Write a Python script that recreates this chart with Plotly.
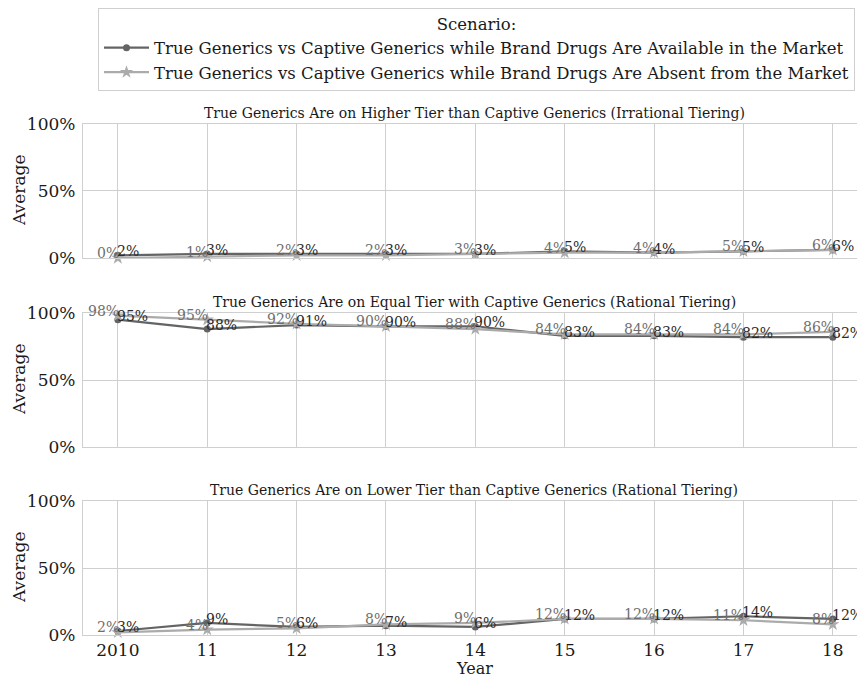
import plotly.graph_objects as go

YEARS = [2010, 2011, 2012, 2013, 2014, 2015, 2016, 2017, 2018]
YEAR_LABELS = ["2010", "11", "12", "13", "14", "15", "16", "17", "18"]

PANEL_TITLES = [
    "True Generics Are on Higher Tier than Captive Generics (Irrational Tiering)",
    "True Generics Are on Equal Tier with Captive Generics (Rational Tiering)",
    "True Generics Are on Lower Tier than Captive Generics (Rational Tiering)",
]

SERIES_NAMES = [
    "True Generics vs Captive Generics while Brand Drugs Are Available in the Market",
    "True Generics vs Captive Generics while Brand Drugs Are Absent from the Market",
]

# percent values, per panel
AVAILABLE = [
    [2, 3, 3, 3, 3, 5, 4, 5, 6],
    [95, 88, 91, 90, 90, 83, 83, 82, 82],
    [3, 9, 6, 7, 6, 12, 12, 14, 12],
]
ABSENT = [
    [0, 1, 2, 2, 3, 4, 4, 5, 6],
    [98, 95, 92, 90, 88, 84, 84, 84, 86],
    [2, 4, 5, 8, 9, 12, 12, 11, 8],
]

FONT = "DejaVu Serif"
GRID = "#cfcfcf"
DARK = "#646464"
LIGHT = "#ababab"
TXT = "#1a1a1a"

# page has an 8px body margin, so the figure is 8px smaller than the window
W, H = 857, 670
DOMAINS = [[0.7378, 1.0], [0.3679, 0.6301], [0.0, 0.2622]]

fig = go.Figure()
annotations = []

for i in range(3):
    xa = "x" if i == 0 else f"x{i + 1}"
    ya = "y" if i == 0 else f"y{i + 1}"
    a_vals = [v / 100 for v in AVAILABLE[i]]
    b_vals = [v / 100 for v in ABSENT[i]]

    fig.add_trace(go.Scatter(
        x=YEARS, y=a_vals, xaxis=xa, yaxis=ya,
        mode="lines+markers", name=SERIES_NAMES[0],
        legendgroup="a", showlegend=(i == 0), cliponaxis=False,
        line=dict(color=DARK, width=2.2),
        marker=dict(symbol="circle", size=7, color=DARK),
    ))
    fig.add_trace(go.Scatter(
        x=YEARS, y=b_vals, xaxis=xa, yaxis=ya,
        mode="lines+markers", name=SERIES_NAMES[1],
        legendgroup="b", showlegend=(i == 0), cliponaxis=False,
        line=dict(color=LIGHT, width=2.2),
        marker=dict(symbol="star", size=10, color=LIGHT),
    ))

    # value labels: absent series to the left, available series to the right
    for x, v, p in zip(YEARS, b_vals, ABSENT[i]):
        annotations.append(dict(
            x=x, y=v, xref=xa, yref=ya, text=f"{p}%", showarrow=False,
            xanchor="right", yanchor="middle", xshift=3, yshift=5,
            font=dict(family=FONT, size=14, color="#6e6e6e"),
        ))
    for x, v, p in zip(YEARS, a_vals, AVAILABLE[i]):
        annotations.append(dict(
            x=x, y=v, xref=xa, yref=ya, text=f"{p}%", showarrow=False,
            xanchor="left", yanchor="middle", xshift=-3, yshift=4,
            font=dict(family=FONT, size=14, color="#2a2a2a"),
        ))

    # panel title
    annotations.append(dict(
        x=0.5, y=DOMAINS[i][1], xref="paper", yref="paper",
        text=PANEL_TITLES[i], showarrow=False,
        xanchor="center", yanchor="bottom", yshift=1,
        font=dict(family=FONT, size=14, color=TXT),
    ))
    # y axis title
    annotations.append(dict(
        x=0, y=sum(DOMAINS[i]) / 2, xref="paper", yref="paper",
        text="Average", showarrow=False, textangle=-90,
        xanchor="center", yanchor="middle", xshift=-64,
        font=dict(family=FONT, size=17, color=TXT),
    ))

    axis_common = dict(
        showgrid=True, gridcolor=GRID, gridwidth=1.3,
        showline=True, linecolor=GRID, linewidth=1.3, mirror=True,
        zeroline=False, ticks="", automargin=False,
        tickfont=dict(family=FONT, size=17, color=TXT),
    )
    fig.layout[f"xaxis{'' if i == 0 else i + 1}"] = dict(
        axis_common,
        domain=[0, 1], anchor=ya,
        range=[2009.61, 2018.36],
        tickvals=YEARS, ticktext=YEAR_LABELS,
        showticklabels=(i == 2),
        ticklabelstandoff=-1,
    )
    fig.layout[f"yaxis{'' if i == 0 else i + 1}"] = dict(
        axis_common,
        domain=DOMAINS[i], anchor=xa,
        range=[0, 1], tickvals=[0, 0.5, 1], tickformat=".0%",
        ticklabelstandoff=3,
    )

annotations.append(dict(
    x=0.5, y=0, xref="paper", yref="paper", text="Year", showarrow=False,
    xanchor="center", yanchor="top", yshift=-22,
    font=dict(family=FONT, size=16, color=TXT),
))

fig.update_layout(
    width=W, height=H,
    margin=dict(l=75, r=0, t=116, b=43, autoexpand=False),
    plot_bgcolor="white", paper_bgcolor="white",
    annotations=annotations,
    font=dict(family=FONT, color=TXT),
    legend=dict(
        x=90 / W, xanchor="left", xref="container",
        y=1.0, yanchor="top", yref="container",
        bordercolor="#cfcfcf", borderwidth=1,
        itemwidth=45,
        font=dict(family=FONT, size=16.5, color=TXT),
        title=dict(text="Scenario:", side="top center",
                   font=dict(family=FONT, size=16.5, color=TXT)),
        tracegroupgap=0,
    ),
)

fig.write_html("out.html")
